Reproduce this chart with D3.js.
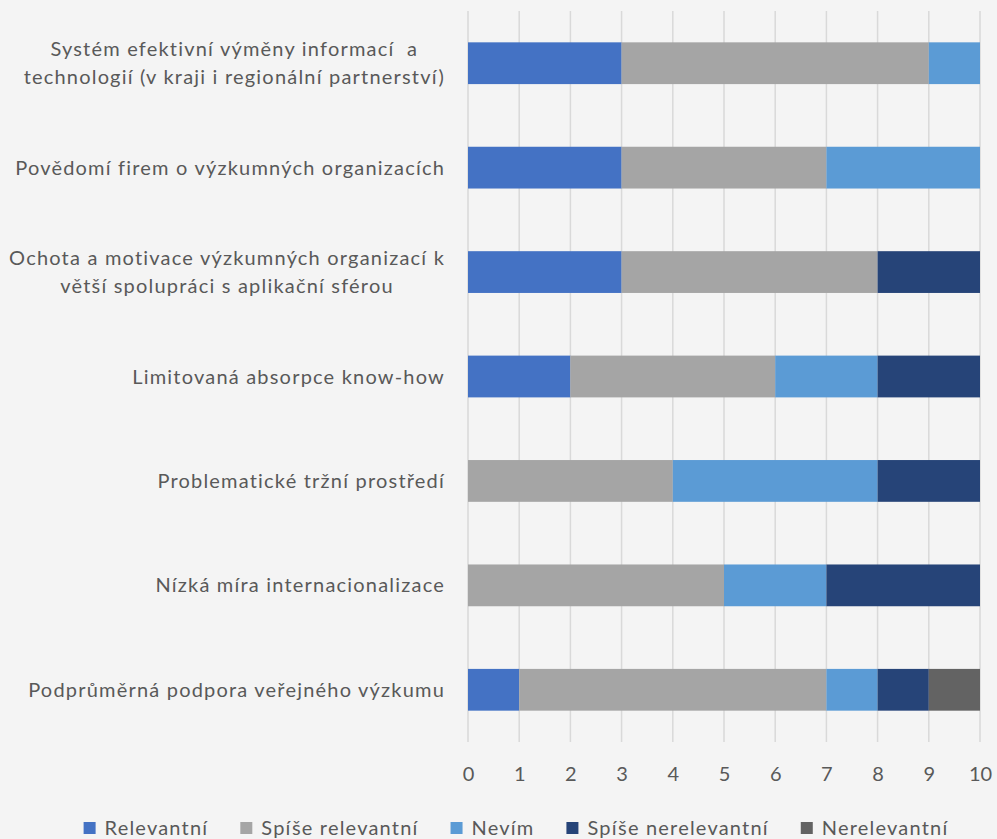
<!DOCTYPE html>
<html><head><meta charset="utf-8">
<script src="https://cdn.jsdelivr.net/npm/d3@7"></script>
<style>
html,body{margin:0;padding:0;background:#f4f4f4;}
svg{display:block;}
text{font-family:Lato, "Open Sans", sans-serif;fill:#595959;white-space:pre;letter-spacing:1.2px;}
</style></head><body>
<svg id="c" width="997" height="839"></svg>
<script>
const categories = [
  ["Systém efektivní výměny informací  a", "technologií (v kraji i regionální partnerství)"],
  ["Povědomí firem o výzkumných organizacích"],
  ["Ochota a motivace výzkumných organizací k", "větší spolupráci s aplikační sférou"],
  ["Limitovaná absorpce know-how"],
  ["Problematické tržní prostředí"],
  ["Nízká míra internacionalizace"],
  ["Podprůměrná podpora veřejného výzkumu"]
];
const seriesNames = ["Relevantní", "Spíše relevantní", "Nevím", "Spíše nerelevantní", "Nerelevantní"];
const seriesColors = ["#4472C4", "#A5A5A5", "#5B9BD5", "#264478", "#636363"];
const relevantni       = [3, 3, 3, 2, 0, 0, 1];
const spiseRelevantni  = [6, 4, 5, 4, 4, 5, 6];
const nevim            = [1, 3, 0, 2, 4, 2, 1];
const spiseNerelevantni= [0, 0, 2, 2, 2, 3, 1];
const nerelevantni     = [0, 0, 0, 0, 0, 0, 1];
const xTicks = [0,1,2,3,4,5,6,7,8,9,10];

const seriesVals = [relevantni, spiseRelevantni, nevim, spiseNerelevantni, nerelevantni];
const rows = categories.map((c,i)=>{
  const o = {idx:i};
  seriesNames.forEach((s,j)=>o[s]=seriesVals[j][i]);
  return o;
});
const stacked = d3.stack().keys(seriesNames)(rows);

const svg = d3.select("#c");
const x = d3.scaleLinear().domain([0,10]).range([468,980]);
const y = d3.scaleBand().domain(d3.range(categories.length)).range([11,742]).paddingInner(0.6).paddingOuter(0.3);

// gridlines
svg.append("g").selectAll("line").data(xTicks).join("line")
  .attr("x1",d=>x(d)).attr("x2",d=>x(d)).attr("y1",11).attr("y2",742)
  .attr("stroke","#d9d9d9").attr("stroke-width",1.5);

// bars
svg.append("g").selectAll("g").data(stacked).join("g")
  .attr("fill",(d,i)=>seriesColors[i])
  .selectAll("rect").data(d=>d).join("rect")
  .attr("x",d=>x(d[0])).attr("width",d=>x(d[1])-x(d[0]))
  .attr("y",d=>y(d.data.idx)).attr("height",y.bandwidth());

// x tick labels
const xAxis = d3.axisBottom(x).tickValues(xTicks).tickSize(0).tickPadding(0).tickFormat(d3.format("d"));
const gx = svg.append("g").attr("transform","translate(0,774)").call(xAxis);
gx.select(".domain").remove();
gx.selectAll("text").attr("dy","0.35em").attr("font-size",20).style("font-family","Lato, sans-serif").style("letter-spacing","0px").attr("fill","#595959");

// category labels
const lineH = 28.5;
const labelRight = 445;
categories.forEach((lines,i)=>{
  const cy = y(i) + y.bandwidth()/2;
  const g = svg.append("g");
  const texts = lines.map((ln,k)=> g.append("text")
    .attr("font-size",20)
    .attr("y", cy + (k - (lines.length-1)/2)*lineH)
    .attr("dy","0.35em")
    .text(ln));
  const widths = texts.map(t=>t.node().getComputedTextLength());
  const maxW = d3.max(widths);
  const center = labelRight - maxW/2;
  texts.forEach(t=>t.attr("x",center).attr("text-anchor","middle"));
});

// legend
const leg = svg.append("g");
let lx = 0;
seriesNames.forEach((s,i)=>{
  const g = leg.append("g");
  g.append("rect").attr("x",lx).attr("y",-6).attr("width",12).attr("height",12).attr("fill",seriesColors[i]);
  const t = g.append("text").attr("x",lx+21).attr("y",0).attr("dy","0.35em").attr("font-size",20).text(s);
  lx += 21 + t.node().getComputedTextLength() + 32;
});
const totalW = lx - 32;
leg.attr("transform",`translate(${516 - totalW/2},828)`);
</script>
</body></html>
